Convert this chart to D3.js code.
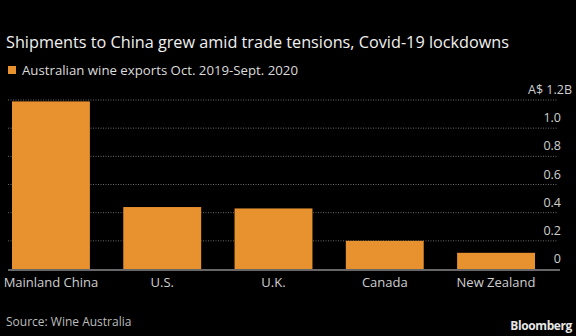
<!DOCTYPE html>
<html>
<head>
<meta charset="utf-8">
<script src="https://cdn.jsdelivr.net/npm/d3@7"></script>
<style>
  html, body { margin: 0; padding: 0; background: #000; }
  svg text { font-family: "Open Sans", "Noto Sans", sans-serif; }
</style>
</head>
<body>
<svg id="chart" width="576" height="336"></svg>
<script>
var countries = ["Mainland China", "U.S.", "U.K.", "Canada", "New Zealand"];
var exports = [1.19, 0.44, 0.43, 0.2, 0.115]; // A$ billions
var yTicks = [0, 0.2, 0.4, 0.6, 0.8, 1.0, 1.2];

var svg = d3.select("#chart");
var orange = "#e8912f";

svg.append("rect").attr("width", 576).attr("height", 336).attr("fill", "#000");

// squeeze a label into a given width
function fit(sel, w) {
    var len = sel.node().getComputedTextLength();
    if (len > 0) sel.attr("textLength", w).attr("lengthAdjust", "spacingAndGlyphs");
    return sel;
}

fit(svg.append("text")
    .attr("x", 6).attr("y", 48)
    .attr("fill", "#f0f0f0")
    .attr("font-size", 17)
    .text("Shipments to China grew amid trade tensions, Covid-19 lockdowns"), 503);

svg.append("rect")
    .attr("x", 8).attr("y", 66)
    .attr("width", 8).attr("height", 8)
    .attr("fill", orange);
fit(svg.append("text")
    .attr("x", 22).attr("y", 75)
    .attr("fill", "#dcdcdc")
    .attr("font-size", 12.5)
    .text("Australian wine exports Oct. 2019-Sept. 2020"), 276);

var x = d3.scaleBand()
    .domain(countries)
    .range([12, 535])
    .paddingInner(0.3)
    .paddingOuter(0);

var y = d3.scaleLinear()
    .domain([0, 1.2])
    .range([269, 100]);

// dotted gridlines
svg.append("g").selectAll("line")
    .data(yTicks.filter(function (d) { return d > 0; }))
    .enter().append("line")
    .attr("x1", 8).attr("x2", 557)
    .attr("y1", function (d) { return y(d); })
    .attr("y2", function (d) { return y(d); })
    .attr("stroke", "#6a6a6a")
    .attr("stroke-width", 1)
    .attr("stroke-dasharray", "1,1.5");

svg.append("g").selectAll("text")
    .data(yTicks)
    .enter().append("text")
    .attr("x", 561)
    .attr("y", function (d) { return y(d) - 6; })
    .attr("text-anchor", "end")
    .attr("fill", "#cfcfcf")
    .attr("font-size", 12.5)
    .text(function (d) { return d === 0 ? "0" : d3.format(".1f")(d); })
    .filter(function (d) { return d === 1.2; })
    .text(null)
    .call(function (t) {
        t.append("tspan").text("A$ ");
        t.append("tspan").text("1.2");
        t.append("tspan").text("B");
    })
    .attr("x", 572);

svg.append("g").selectAll("rect")
    .data(exports)
    .enter().append("rect")
    .attr("x", function (d, i) { return x(countries[i]); })
    .attr("y", function (d) { return y(d); })
    .attr("width", x.bandwidth())
    .attr("height", function (d) { return y(0) - y(d); })
    .attr("fill", orange);

svg.append("line")
    .attr("x1", 8).attr("x2", 560)
    .attr("y1", y(0) + 1).attr("y2", y(0) + 1)
    .attr("stroke", "#8a8a8a")
    .attr("stroke-width", 1.5);

svg.append("g").selectAll("text")
    .data(countries)
    .enter().append("text")
    .attr("x", function (d) { return x(d) + x.bandwidth() / 2; })
    .attr("y", 287)
    .attr("text-anchor", "middle")
    .attr("fill", "#cfcfcf")
    .attr("font-size", 13)
    .text(function (d) { return d; });

svg.append("text")
    .attr("x", 6).attr("y", 326)
    .attr("fill", "#bdbdbd")
    .attr("font-size", 12)
    .text("Source: Wine Australia");

svg.append("text")
    .attr("x", 572).attr("y", 330)
    .attr("text-anchor", "end")
    .attr("fill", "#e6e6e6")
    .attr("font-size", 12)
    .attr("font-weight", "bold")
    .attr("letter-spacing", -0.4)
    .text("Bloomberg");
</script>
</body>
</html>
